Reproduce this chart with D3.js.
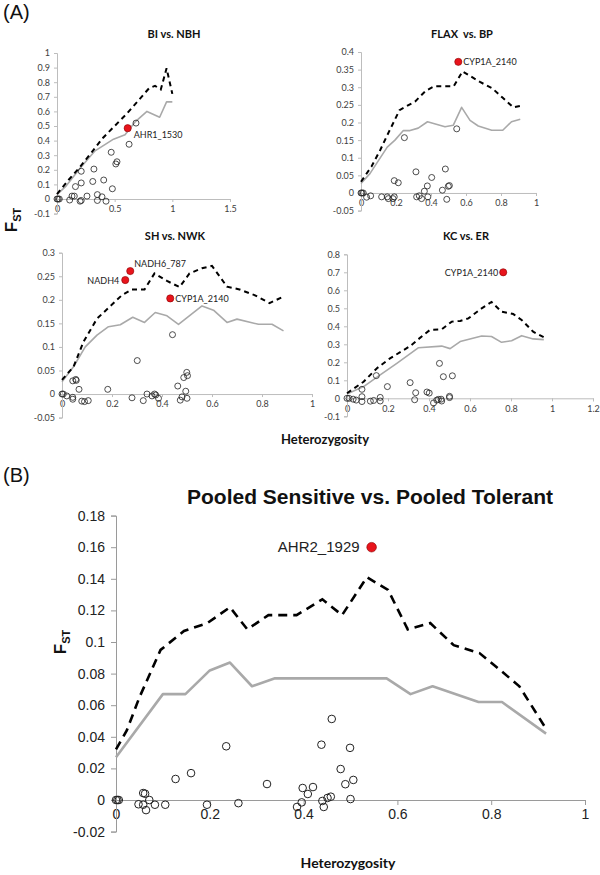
<!DOCTYPE html>
<html><head><meta charset="utf-8">
<script src="https://cdn.jsdelivr.net/npm/d3@7"></script>
<style>body{margin:0;background:#fff}</style>
</head><body><svg id="c" width="600" height="875" xmlns="http://www.w3.org/2000/svg"></svg>
<script>
// ---------------- DATA ----------------
// Panel A1: BI vs. NBH
const biTitle = "BI vs. NBH";
const biXTicks = [0, 0.5, 1, 1.5];
const biYTicks = [-0.1, 0, 0.1, 0.2, 0.3, 0.4, 0.5, 0.6, 0.7, 0.8, 0.9, 1];
const biDashed = [[0,0.034],[0.1,0.13],[0.2,0.22],[0.3,0.32],[0.4,0.42],[0.5,0.5],[0.6,0.58],[0.7,0.67],[0.8,0.76],[0.85,0.775],[0.9,0.75],[0.95,0.895],[1.0,0.72]];
const biGrey = [[0,0.03],[0.08,0.09],[0.2,0.21],[0.33,0.33],[0.49,0.41],[0.59,0.44],[0.68,0.53],[0.78,0.6],[0.89,0.56],[0.95,0.665],[1.0,0.665]];
const biPoints = [[0,0],[0.01,0],[0.02,0],[0.11,-0.007],[0.13,0.02],[0.15,0.02],[0.16,0.085],[0.2,-0.015],[0.21,-0.01],[0.21,0.19],[0.21,0.11],[0.26,0.02],[0.31,0.12],[0.32,0.205],[0.35,0.03],[0.35,-0.01],[0.39,0.015],[0.405,0.13],[0.425,-0.015],[0.47,0.32],[0.48,0.07],[0.51,0.24],[0.52,0.255],[0.625,0.375],[0.685,0.52]];
const biRed = [{x:0.613, y:0.485, label:"AHR1_1530"}];

// Panel A2: FLAX vs. BP
const flaxTitle = "FLAX\u00a0 vs. BP";
const flaxXTicks = [0, 0.2, 0.4, 0.6, 0.8, 1];
const flaxYTicks = [-0.05, 0, 0.05, 0.1, 0.15, 0.2, 0.25, 0.3, 0.35, 0.4];
const flaxDashed = [[0,0.032],[0.06,0.075],[0.11,0.122],[0.16,0.174],[0.22,0.235],[0.31,0.26],[0.37,0.29],[0.42,0.303],[0.53,0.303],[0.58,0.345],[0.68,0.315],[0.75,0.297],[0.81,0.27],[0.87,0.243],[0.91,0.247]];
const flaxGrey = [[0,0.027],[0.051,0.055],[0.15,0.13],[0.194,0.15],[0.242,0.177],[0.28,0.177],[0.327,0.184],[0.38,0.202],[0.48,0.188],[0.527,0.192],[0.575,0.243],[0.623,0.206],[0.67,0.19],[0.747,0.178],[0.81,0.178],[0.86,0.202],[0.91,0.209]];
const flaxPoints = [[0,0],[0.005,0],[0.013,0],[0.032,-0.012],[0.055,-0.008],[0.118,-0.011],[0.15,-0.011],[0.156,-0.016],[0.183,-0.016],[0.19,-0.011],[0.19,0.035],[0.213,0.029],[0.248,0.157],[0.314,0.06],[0.318,-0.011],[0.333,-0.008],[0.346,-0.016],[0.362,0.005],[0.379,0.02],[0.382,-0.011],[0.404,0.044],[0.465,0.008],[0.482,0.068],[0.49,-0.018],[0.499,0.019],[0.505,0.021],[0.547,0.182]];
const flaxRed = [{x:0.556, y:0.372, label:"CYP1A_2140"}];

// Panel A3: SH vs. NWK
const shTitle = "SH vs. NWK";
const shXTicks = [0, 0.2, 0.4, 0.6, 0.8, 1];
const shYTicks = [-0.05, 0, 0.05, 0.1, 0.15, 0.2, 0.25, 0.3];
const shDashed = [[0,0.03],[0.046,0.058],[0.086,0.111],[0.14,0.16],[0.19,0.185],[0.24,0.21],[0.28,0.222],[0.33,0.222],[0.37,0.256],[0.42,0.24],[0.47,0.227],[0.51,0.256],[0.56,0.267],[0.6,0.272],[0.66,0.228],[0.71,0.222],[0.77,0.21],[0.83,0.193],[0.89,0.208]];
const shGrey = [[0,0.026],[0.046,0.058],[0.093,0.1],[0.14,0.125],[0.186,0.143],[0.233,0.147],[0.283,0.163],[0.33,0.152],[0.373,0.173],[0.42,0.166],[0.466,0.148],[0.56,0.187],[0.606,0.178],[0.66,0.152],[0.7,0.159],[0.786,0.148],[0.84,0.148],[0.886,0.134]];
const shPoints = [[0,0],[0.005,0],[0.019,-0.004],[0.043,0.028],[0.055,0.031],[0.057,0.029],[0.043,-0.007],[0.043,-0.011],[0.068,0.01],[0.079,-0.015],[0.09,-0.016],[0.105,-0.014],[0.183,0.01],[0.28,-0.008],[0.301,0.071],[0.325,-0.014],[0.34,0],[0.36,-0.004],[0.37,0],[0.375,-0.002],[0.386,-0.009],[0.442,0.126],[0.463,0.017],[0.473,-0.013],[0.48,-0.006],[0.487,0.035],[0.495,0.006],[0.5,-0.009],[0.499,0.046],[0.502,0.039]];
const shRed = [{x:0.253, y:0.242, label:"NADH4"},{x:0.273, y:0.261, label:"NADH6_787"},{x:0.433, y:0.203, label:"CYP1A_2140"}];

// Panel A4: KC vs. ER
const kcTitle = "KC vs. ER";
const kcXTicks = [0, 0.2, 0.4, 0.6, 0.8, 1, 1.2];
const kcYTicks = [-0.1, 0, 0.1, 0.2, 0.3, 0.4, 0.5, 0.6, 0.7, 0.8];
const kcDashed = [[0,0.028],[0.081,0.092],[0.146,0.167],[0.21,0.222],[0.308,0.29],[0.373,0.352],[0.405,0.38],[0.462,0.383],[0.511,0.426],[0.552,0.43],[0.592,0.444],[0.657,0.5],[0.705,0.535],[0.754,0.481],[0.811,0.468],[0.852,0.435],[0.908,0.37],[0.96,0.339]];
const kcGrey = [[0,0.024],[0.081,0.065],[0.162,0.13],[0.243,0.194],[0.349,0.281],[0.462,0.29],[0.503,0.276],[0.552,0.315],[0.657,0.346],[0.705,0.343],[0.754,0.311],[0.803,0.32],[0.852,0.348],[0.908,0.33],[0.96,0.326]];
const kcPoints = [[0,0],[0.01,0],[0.03,-0.005],[0.045,-0.01],[0.073,0.05],[0.073,0.009],[0.073,-0.018],[0.114,-0.016],[0.13,-0.012],[0.143,0.126],[0.162,0.005],[0.162,-0.015],[0.197,0.065],[0.308,0.087],[0.33,-0.008],[0.335,0.031],[0.39,0.035],[0.401,0.029],[0.422,-0.026],[0.438,-0.01],[0.446,-0.006],[0.451,0.194],[0.459,-0.005],[0.462,-0.015],[0.47,0.12],[0.5,0.011],[0.5,0.004],[0.514,0.125]];
const kcRed = [{x:0.762, y:0.7, label:"CYP1A_2140"}];

// Panel B: Pooled Sensitive vs. Pooled Tolerant
const pooledTitle = "Pooled Sensitive vs. Pooled Tolerant";
const pooledXTicks = [0, 0.2, 0.4, 0.6, 0.8, 1];
const pooledYTicks = [-0.02, 0, 0.02, 0.04, 0.06, 0.08, 0.1, 0.12, 0.14, 0.16, 0.18];
const pooledDashed = [[0,0.032],[0.023,0.044],[0.05,0.065],[0.095,0.095],[0.145,0.107],[0.195,0.112],[0.243,0.122],[0.28,0.108],[0.325,0.117],[0.385,0.117],[0.44,0.127],[0.482,0.117],[0.535,0.141],[0.58,0.133],[0.622,0.108],[0.67,0.112],[0.72,0.098],[0.775,0.093],[0.82,0.082],[0.86,0.072],[0.915,0.046]];
const pooledGrey = [[0,0.027],[0.1,0.067],[0.148,0.067],[0.2,0.082],[0.243,0.087],[0.29,0.072],[0.339,0.077],[0.577,0.077],[0.628,0.067],[0.675,0.072],[0.773,0.062],[0.823,0.062],[0.917,0.042]];
const pooledPoints = [[0,0],[0.003,0],[0.006,0],[0.058,0.0044],[0.062,0.004],[0.048,-0.0027],[0.058,-0.003],[0.064,-0.0064],[0.071,0],[0.083,-0.003],[0.105,-0.003],[0.127,0.0133],[0.16,0.017],[0.194,-0.003],[0.235,0.034],[0.261,-0.002],[0.322,0.0101],[0.386,-0.0044],[0.396,-0.0015],[0.398,0.0076],[0.409,0.0038],[0.42,0.0082],[0.438,0.035],[0.44,-0.0006],[0.443,-0.0044],[0.451,0.0013],[0.458,0.0021],[0.46,0.0513],[0.479,0.0196],[0.489,0.01],[0.499,0.033],[0.5,0.0006],[0.506,0.0127]];
const pooledRed = [{x:0.545, y:0.16, label:"AHR2_1929"}];

const panelLabels = ["(A)", "(B)"];
const xAxisLabel = "Heterozygosity";

// ---------------- DRAWING ----------------
const svg = d3.select("#c");
const fmt = v => String(+v.toFixed(3));

function drawPanel(o) {
  const g = svg.append("g");
  const x = d3.scaleLinear().domain(o.xd).range(o.xr);
  const y = d3.scaleLinear().domain(o.yd).range(o.yr);
  const xa = d3.axisBottom(x).tickValues(o.xt).tickFormat(fmt).tickSize(o.tick).tickSizeOuter(o.tick).tickPadding(o.xpad);
  const ya = d3.axisLeft(y).tickValues(o.yt).tickFormat(fmt).tickSize(o.tick).tickSizeOuter(o.tick).tickPadding(o.ypad);
  const gx = g.append("g").attr("transform", `translate(0,${y(0)})`).call(xa);
  const gy = g.append("g").attr("transform", `translate(${x(0)},0)`).call(ya);
  [gx, gy].forEach(a => {
    a.selectAll("path,line").attr("stroke", o.axisColor).attr("stroke-width", 1);
    a.selectAll("text").attr("fill", o.textColor).style("font-family", o.font).style("font-size", o.fs + "px");
  });
  const line = d3.line().x(d => x(d[0])).y(d => y(d[1]));
  g.append("path").datum(o.grey).attr("d", line).attr("fill", "none")
    .attr("stroke", "#a9a9a9").attr("stroke-width", o.greyW).attr("stroke-linejoin", "round");
  g.append("path").datum(o.dashed).attr("d", line).attr("fill", "none")
    .attr("stroke", "#000").attr("stroke-width", o.dashW).attr("stroke-dasharray", o.dash);
  g.selectAll("circle.p").data(o.points).join("circle").attr("class", "p")
    .attr("cx", d => x(d[0])).attr("cy", d => y(d[1])).attr("r", o.r)
    .attr("fill", "none").attr("stroke", "#222").attr("stroke-width", o.cw);
  o.red.forEach((d, i) => {
    g.append("circle").attr("cx", x(d.x)).attr("cy", y(d.y)).attr("r", o.rr)
      .attr("fill", "#e8141c").attr("stroke", "#8a0000").attr("stroke-width", 0.6);
    const off = o.labelOff[i];
    g.append("text").attr("x", x(d.x) + off[0]).attr("y", y(d.y) + off[1])
      .attr("text-anchor", off[2]).attr("fill", "#222")
      .style("font-family", o.font).style("font-size", o.lfs + "px").text(d.label);
  });
  g.append("text").attr("x", o.titleX).attr("y", o.titleY).attr("text-anchor", "middle")
    .style("font-family", o.titleFont).style("font-weight", "bold").style("font-size", o.tfs + "px")
    .attr("fill", "#111").text(o.title);
}

const aStyle = {tick: 3, xpad: 4, ypad: 4, axisColor: "#bdbdbd", textColor: "#404040", font: "Lato, 'Open Sans', sans-serif",
  fs: 9, lfs: 9, r: 3, cw: 0.8, rr: 3.6, greyW: 1.6, dashW: 2, dash: "5,4", titleFont: "Lato, sans-serif", tfs: 11};

drawPanel(Object.assign({}, aStyle, {xd:[0,1.5], xr:[57,230], yd:[-0.1,1], yr:[213.6,53], xt:biXTicks, yt:biYTicks,
  dashed:biDashed, grey:biGrey, points:biPoints, red:biRed, labelOff:[[6,9.5,"start"]], title:biTitle, titleX:174, titleY:38}));
drawPanel(Object.assign({}, aStyle, {xd:[0,1], xr:[361,536], yd:[-0.05,0.4], yr:[210.6,52], xt:flaxXTicks, yt:flaxYTicks,
  dashed:flaxDashed, grey:flaxGrey, points:flaxPoints, red:flaxRed, labelOff:[[5,3.5,"start"]], title:flaxTitle, titleX:462, titleY:38}));
drawPanel(Object.assign({}, aStyle, {xd:[0,1], xr:[62,312], yd:[-0.05,0.3], yr:[417.6,252.7], xt:shXTicks, yt:shYTicks,
  dashed:shDashed, grey:shGrey, points:shPoints, red:shRed, labelOff:[[-6,3.5,"end"],[4,-4,"start"],[5,3.5,"start"]], title:shTitle, titleX:175, titleY:240}));
drawPanel(Object.assign({}, aStyle, {xd:[0,1.2], xr:[347,593], yd:[-0.1,0.8], yr:[416.3,254.3], xt:kcXTicks, yt:kcYTicks,
  dashed:kcDashed, grey:kcGrey, points:kcPoints, red:kcRed, labelOff:[[-5,3.5,"end"]], title:kcTitle, titleX:466, titleY:240}));
drawPanel({tick: 5, xpad: 4, ypad: 6, axisColor: "#9a9a9a", textColor: "#222", font: "'Liberation Sans', Arial, sans-serif",
  fs: 14, lfs: 15, r: 3.8, cw: 1, rr: 4.8, greyW: 2.6, dashW: 2.6, dash: "9,6", titleFont: "'Liberation Sans', Arial, sans-serif", tfs: 21,
  xd:[0,1], xr:[116,585], yd:[-0.02,0.18], yr:[831.6,515.6], xt:pooledXTicks, yt:pooledYTicks,
  dashed:pooledDashed, grey:pooledGrey, points:pooledPoints, red:pooledRed, labelOff:[[-12,5,"end"]], title:pooledTitle, titleX:370, titleY:504});

// Panel letters
svg.append("text").attr("x", 3).attr("y", 19).style("font-family", "'Liberation Sans', Arial, sans-serif").style("font-size", "20px").attr("fill", "#111").text(panelLabels[0]);
svg.append("text").attr("x", 3).attr("y", 482).style("font-family", "'Liberation Sans', Arial, sans-serif").style("font-size", "20px").attr("fill", "#111").text(panelLabels[1]);

// Axis titles
function fst(xc, yc, big, small) {
  const t = svg.append("text").attr("transform", `translate(${xc},${yc}) rotate(-90)`).attr("text-anchor", "middle")
    .style("font-family", "'Liberation Sans', Arial, sans-serif").style("font-weight", "bold").attr("fill", "#111");
  t.append("tspan").style("font-size", big + "px").text("F");
  t.append("tspan").style("font-size", small + "px").attr("dy", small * 0.35).text("ST");
}
fst(17, 220, 17, 11);
fst(66, 642, 17, 11);
svg.append("text").attr("x", 325).attr("y", 444).attr("text-anchor", "middle").style("font-family", "Lato, sans-serif")
  .style("font-weight", "bold").style("font-size", "13px").attr("fill", "#111").text(xAxisLabel);
svg.append("text").attr("x", 348).attr("y", 868).attr("text-anchor", "middle").style("font-family", "Lato, sans-serif")
  .style("font-weight", "bold").style("font-size", "14px").attr("fill", "#111").text(xAxisLabel);
</script></body></html>
